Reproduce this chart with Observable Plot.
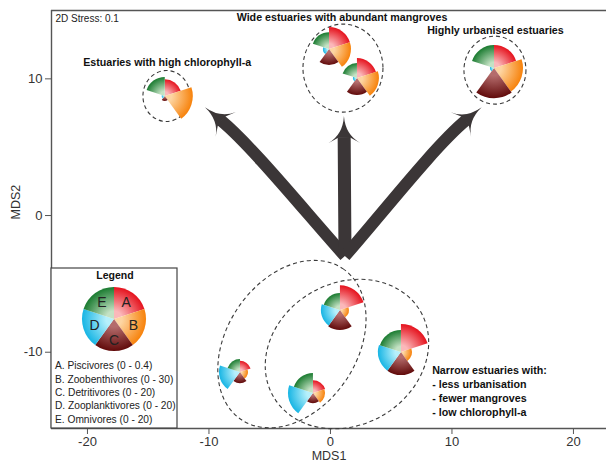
<!DOCTYPE html>
<html><head><meta charset="utf-8">
<script src="https://cdn.jsdelivr.net/npm/d3@7"></script>
<script src="https://cdn.jsdelivr.net/npm/@observablehq/plot@0.6"></script>
<style>
body{margin:0;background:#fff;}
#chart svg{display:block;}
</style></head><body><div id="chart"></div>
<script>
// ---------- data ----------
const guilds = ["A", "B", "C", "D", "E"];
const guildNames = ["Piscivores", "Zoobenthivores", "Detritivores", "Zooplanktivores", "Omnivores"];
const guildMax = [0.4, 30, 20, 20, 20];

// estuary positions in MDS space
const siteX = [-13.6, -0.08, 2.22, 13.5, 0.82, -7.41, -1.40, 5.84];
const siteY = [8.71, 12.14, 10.02, 10.75, -6.95, -11.48, -13.02, -10.02];

// guild abundances per estuary
const piscivores      = [0.21, 0.275, 0.25, 0.29, 0.31, 0.14, 0.16, 0.35];
const zoobenthivores  = [26.3, 20.6, 20.6, 27.2, 8.4, 7.5, 11.3, 10.3];
const detritivores    = [3.1, 10.0, 10.6, 18.8, 12.5, 6.9, 6.3, 14.4];
const zooplanktivores = [1.9, 3.8, 2.5, 2.5, 11.9, 13.1, 15.6, 14.4];
const omnivores       = [11.9, 10.6, 9.4, 14.4, 10.6, 8.1, 12.5, 13.8];
const guildValues = [piscivores, zoobenthivores, detritivores, zooplanktivores, omnivores];

// axes
const xDomain = [-22.96, 22.72];
const yDomain = [-15.58, 15.0];
const xTicks = [-20, -10, 0, 10, 20];
const yTicks = [-10, 0, 10];

// annotation texts
const groupLabels = ["Estuaries with high chlorophyll-a", "Wide estuaries with abundant mangroves", "Highly urbanised estuaries"];
const groupLabelX = [-13.44, 0.95, 13.58];
const groupLabelY = [10.97, 14.23, 13.29];
const narrowLabel = "Narrow estuaries with:\n- less urbanisation\n- fewer mangroves\n- low chlorophyll-a";
const stressLabel = "2D Stress: 0.1";

// group outlines (dashed), centre in MDS units
const outlineX = [-13.46, 1.07, 13.58, -3.13, 1.40];
const outlineY = [8.71, 10.75, 10.6, -9.44, -10.17];
const outlineRx = [23.5, 40, 31, 91, 85];
const outlineRy = [25.5, 44, 34, 65, 71];
const outlineAngle = [0, 0, 0, 56, 30];

// arrows: common base, controls and tips in MDS units
const arrowBase = [1.23, -3.0];
const arrowTipX = [-10.29, 1.15, 12.49];
const arrowTipY = [7.88, 7.24, 7.88];
const arrowC1X = [-1.81, 1.23, 4.2];
const arrowC1Y = [0.0, 0.37, 0.0];
const arrowC2X = [-6.42, 1.19, 8.64];
const arrowC2Y = [5.05, 4.02, 5.05];

// ---------- build ----------
const sectors = siteX.flatMap((x, i) => guilds.map((g, k) => ({
  site: i, x, y: siteY[i], guild: g, k, rel: guildValues[k][i] / guildMax[k]
})));

const FONT = "'Liberation Sans', Arial, Helvetica, sans-serif";

const plot = Plot.plot({
  width: 606, height: 468,
  marginLeft: 51, marginRight: 0, marginTop: 10, marginBottom: 40,
  x: {domain: xDomain},
  y: {domain: yDomain},
  r: {type: "linear", domain: [0, 1], range: [0, 32]},
  style: {fontFamily: FONT, color: "#333", background: "#fff"},
  marks: [
    Plot.ruleX([xDomain[0]], {stroke: "#555", strokeWidth: 1.4}),
    Plot.ruleY([yDomain[0], yDomain[1]], {stroke: "#555", strokeWidth: 1.4}),
    Plot.axisX({ticks: xTicks, tickSize: 6, tickPadding: 2, tickFormat: d => String(d), label: null, fontSize: 13, stroke: "#555"}),
    Plot.axisY({ticks: yTicks, tickSize: 6, tickPadding: 3, tickFormat: d => String(d), label: null, fontSize: 13, stroke: "#555"}),
    Plot.text(["MDS1"], {frameAnchor: "bottom", dy: 31.5, fontSize: 12.5, fill: "#333"}),
    Plot.text(["MDS2"], {frameAnchor: "left", rotate: -90, dx: -36, fontSize: 12.5, fill: "#333"}),
    Plot.text([stressLabel], {frameAnchor: "top-left", textAnchor: "start", lineAnchor: "top", dx: 4, dy: 4.6, fontSize: 10, fill: "#222"}),
    Plot.text(groupLabels, {x: (d, i) => groupLabelX[i], y: (d, i) => groupLabelY[i], text: d => d,
      lineAnchor: "bottom", fontWeight: "bold", fontSize: 10.7, fill: "#111"}),
    Plot.text([narrowLabel], {x: 8.37, y: -14.70, textAnchor: "start", lineAnchor: "bottom", lineHeight: 1.33,
      fontWeight: "bold", fontSize: 10.7, fill: "#111"}),
    Plot.dot(sectors, {x: "x", y: "y", r: "rel", fill: "none", stroke: "none"})
  ]
});
document.getElementById("chart").appendChild(plot);

const svg = d3.select(plot);
const sx = plot.scale("x"), sy = plot.scale("y"), sr = plot.scale("r");
const X = v => sx.apply(v), Y = v => sy.apply(v);
const defs = svg.append("defs");

const colors = {
  A: ["#fbb8ba", "#e5121d"],
  B: ["#fdd5a2", "#f7820b"],
  C: ["#b46c6c", "#620b0b"],
  D: ["#b6f0fb", "#17b5e4"],
  E: ["#c4e2c4", "#1a7b30"]
};

// dashed group outlines
const gO = svg.append("g").attr("fill", "none").attr("stroke", "#3a3a3a")
  .attr("stroke-width", 1.1).attr("stroke-dasharray", "4,3");
outlineX.forEach((ox, i) => {
  const cx = X(ox), cy = Y(outlineY[i]);
  gO.append("ellipse").attr("cx", cx).attr("cy", cy)
    .attr("rx", outlineRx[i]).attr("ry", outlineRy[i])
    .attr("transform", `rotate(${-outlineAngle[i]},${cx},${cy})`);
});

// arrows
const arrowColor = "#3b3637";
const gA = svg.append("g");
const bx = X(arrowBase[0]), by = Y(arrowBase[1]);
arrowTipX.forEach((tX, i) => {
  const tx = X(tX), ty = Y(arrowTipY[i]);
  const c1x = X(arrowC1X[i]), c1y = Y(arrowC1Y[i]);
  const c2x = X(arrowC2X[i]), c2y = Y(arrowC2Y[i]);
  let dx = tx - c2x, dy = ty - c2y;
  const len = Math.hypot(dx, dy); dx /= len; dy /= len;
  const L = 27, W = 16, h = 6;
  const ex = tx - dx * L * 0.78, ey = ty - dy * L * 0.78;
  gA.append("path")
    .attr("d", `M${bx},${by}C${c1x},${c1y} ${c2x},${c2y} ${ex},${ey}`)
    .attr("fill", "none").attr("stroke", arrowColor).attr("stroke-width", i === 1 ? 13 : 12);
  const ang = Math.atan2(dy, dx) * 180 / Math.PI;
  gA.append("path")
    .attr("d", `M0,0Q${-0.7 * L},${-0.08 * W} ${-L},${-W}L${-0.8 * L},${-h}L${-0.8 * L},${h}L${-L},${W}Q${-0.7 * L},${0.08 * W} 0,0Z`)
    .attr("transform", `translate(${tx},${ty}) rotate(${ang})`)
    .attr("fill", arrowColor);
});

// rose (coxcomb) pies
let gid = 0;
function drawRose(parent, cx, cy, radii) {
  const g = parent.append("g").attr("transform", `translate(${cx},${cy})`);
  radii.forEach((r, k) => {
    if (r <= 0) return;
    const id = "rg" + (gid++);
    const grad = defs.append("radialGradient").attr("id", id)
      .attr("gradientUnits", "userSpaceOnUse").attr("cx", 0).attr("cy", 0).attr("r", r);
    const c = colors[guilds[k]];
    grad.append("stop").attr("offset", 0).attr("stop-color", c[0]);
    grad.append("stop").attr("offset", 0.25).attr("stop-color", c[0]);
    grad.append("stop").attr("offset", 1).attr("stop-color", c[1]);
    const a0 = k * 2 * Math.PI / 5, a1 = (k + 1) * 2 * Math.PI / 5;
    g.append("path")
      .attr("d", d3.arc()({innerRadius: 0, outerRadius: r, startAngle: a0, endAngle: a1}))
      .attr("fill", `url(#${id})`);
  });
  return g;
}
const gP = svg.append("g");
siteX.forEach((x, i) => {
  drawRose(gP, X(x), Y(siteY[i]), guilds.map((g, k) => sr.apply(guildValues[k][i] / guildMax[k])));
});

// legend
const lx = X(xDomain[0]), lBottom = Y(yDomain[0]);
const lg = svg.append("g").attr("font-family", FONT);
lg.append("rect").attr("x", lx).attr("y", lBottom - 160).attr("width", 126).attr("height", 160)
  .attr("fill", "#fff").attr("stroke", "#444").attr("stroke-width", 1.2);
lg.append("text").attr("x", lx + 64).attr("y", lBottom - 149).attr("text-anchor", "middle")
  .attr("font-weight", "bold").attr("font-size", 10.5).attr("fill", "#111").text("Legend");
const pcx = lx + 63, pcy = lBottom - 109;
drawRose(lg, pcx, pcy, guilds.map(() => sr.apply(1)));
guilds.forEach((g, k) => {
  const a = (k + 0.5) * 2 * Math.PI / 5, rr = 20.5;
  lg.append("text").attr("x", pcx + Math.sin(a) * rr).attr("y", pcy - Math.cos(a) * rr)
    .attr("text-anchor", "middle").attr("dominant-baseline", "central")
    .attr("font-size", 14).attr("fill", "#222").text(g);
});
guilds.forEach((g, k) => {
  lg.append("text").attr("x", lx + 4).attr("y", lBottom - 58.7 + k * 13.35)
    .attr("text-anchor", "start")
    .attr("font-size", 10.2).attr("fill", "#222")
    .text(`${g}. ${guildNames[k]} (0 - ${guildMax[k]})`);
});
</script>
</body></html>
